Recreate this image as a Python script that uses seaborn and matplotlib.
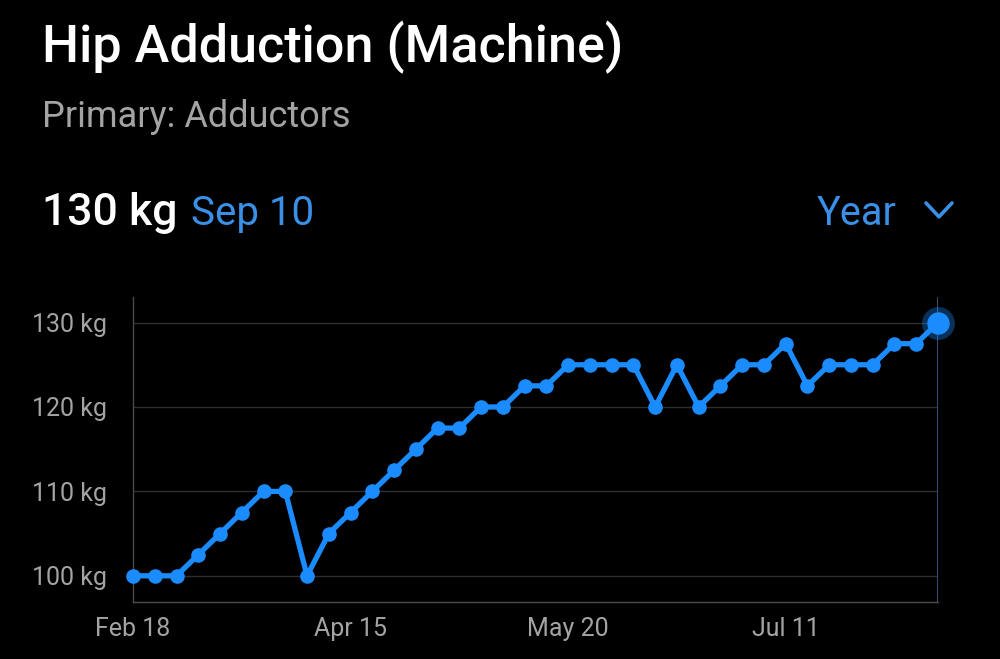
import matplotlib
matplotlib.use("Agg")
import matplotlib.pyplot as plt
from matplotlib.lines import Line2D
import pandas as pd
import seaborn as sns

# dados (uma sessao por ponto, eixo x por indice)
pesos = [100, 100, 100, 102.5, 105, 107.5, 110, 110, 100, 105,
         107.5, 110, 112.5, 115, 117.5, 117.5, 120, 120, 122.5, 122.5,
         125, 125, 125, 125, 120, 125, 120, 122.5, 125, 125,
         127.5, 122.5, 125, 125, 125, 127.5, 127.5, 130]
posicoes_datas = [0, 10, 20, 30]
rotulos_datas = ['Feb 18', 'Apr 15', 'May 20', 'Jul 11']
ticks_y = [100, 110, 120, 130]

AZUL = '#1a8cff'
AZUL_TEXTO = '#3a8fe6'
CINZA = '#a3a3a3'

sns.set_theme(style='dark')
plt.rcParams['font.family'] = ['Roboto', 'DejaVu Sans']

df = pd.DataFrame({'sessao': range(len(pesos)), 'peso': pesos})

fig = plt.figure(figsize=(10, 6.59), dpi=100, facecolor='black')
ax = fig.add_axes([0.133, 0.0865, 0.805, 0.4625])
ax.set_facecolor('black')

sns.lineplot(data=df, x='sessao', y='peso', ax=ax, color=AZUL, linewidth=3.8,
             marker='o', markersize=10.5, markeredgewidth=0, clip_on=False, zorder=5)

# ultimo ponto em destaque
ultimo = df.iloc[[-1]]
ax.scatter(ultimo['sessao'], ultimo['peso'], s=560, color=AZUL, alpha=0.35,
           linewidths=0, clip_on=False, zorder=6)
ax.scatter(ultimo['sessao'], ultimo['peso'], s=260, color=AZUL,
           linewidths=0, clip_on=False, zorder=7)
ax.axvline(ultimo['sessao'].iloc[0], color='#3a5f88', linewidth=1.2, zorder=1)

ax.set_xlim(0, len(pesos) - 1)
ax.set_ylim(96.9, 133)
ax.set_yticks(ticks_y)
ax.set_yticklabels([f'{v} kg' for v in ticks_y])
ax.set_xticks(posicoes_datas)
ax.set_xticklabels(rotulos_datas)
ax.tick_params(axis='both', colors=CINZA, labelsize=18, length=0)
ax.tick_params(axis='y', pad=19)
ax.tick_params(axis='x', pad=11)
ax.set_xlabel('')
ax.set_ylabel('')

ax.grid(axis='y', color='#2e2e2e', linewidth=1)
ax.grid(axis='x', visible=False)
for lado in ['top', 'right']:
    ax.spines[lado].set_visible(False)
ax.spines['left'].set_color('#4a4a4a')
ax.spines['bottom'].set_color('#4a4a4a')
ax.spines['left'].set_linewidth(1)
ax.spines['bottom'].set_linewidth(1)

# cabecalho
fig.text(0.042, 0.905, 'Hip Adduction (Machine)', color='white', fontsize=37.5,
         fontweight='medium', va='baseline')
fig.text(0.042, 0.808, 'Primary: Adductors', color=CINZA, fontsize=26, va='baseline')
fig.text(0.042, 0.658, '130 kg', color='white', fontsize=32, fontweight='medium', va='baseline')
fig.text(0.191, 0.658, 'Sep 10', color=AZUL_TEXTO, fontsize=29, va='baseline')
fig.text(0.897, 0.658, 'Year', color=AZUL_TEXTO, fontsize=28.5, va='baseline', ha='right')
fig.add_artist(Line2D([0.926, 0.939, 0.952], [0.692, 0.671, 0.692], color=AZUL_TEXTO,
                      linewidth=2.6, transform=fig.transFigure))

plt.savefig('out.png', dpi=100, facecolor='black')
